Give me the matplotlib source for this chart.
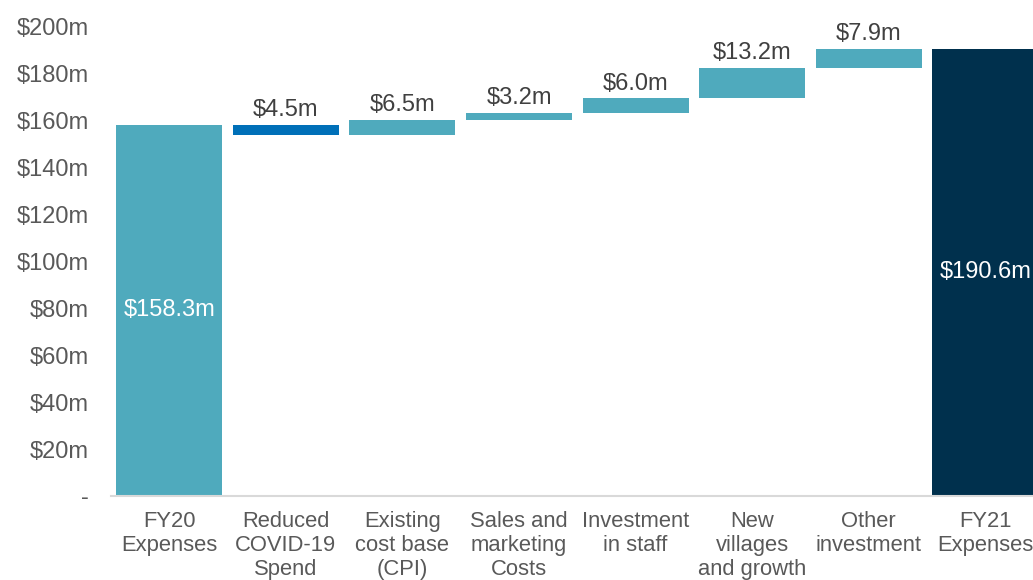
import matplotlib
matplotlib.use('Agg')
import numpy as np
from matplotlib import pyplot as plt

plt.rcParams['font.family'] = ['Liberation Sans', 'DejaVu Sans']

categories = ['FY20\nExpenses', 'Reduced\nCOVID-19\nSpend', 'Existing\ncost base\n(CPI)',
              'Sales and\nmarketing\nCosts', 'Investment\nin staff', 'New\nvillages\nand growth',
              'Other\ninvestment', 'FY21\nExpenses']
changes = [158.3, -4.5, 6.5, 3.2, 6.0, 13.2, 7.9, 190.6]
kinds = ['total', 'down', 'up', 'up', 'up', 'up', 'up', 'total']
labels = ['$158.3m', '$4.5m', '$6.5m', '$3.2m', '$6.0m', '$13.2m', '$7.9m', '$190.6m']
yticks = [0, 20, 40, 60, 80, 100, 120, 140, 160, 180, 200]
yticklabels = ['-', '$20m', '$40m', '$60m', '$80m', '$100m', '$120m', '$140m', '$160m', '$180m', '$200m']

colors = {'total': '#4FAABD', 'down': '#0070B8', 'up': '#4FAABD'}
grey = '#595959'

fig = plt.figure(figsize=(10.33, 5.8), dpi=100)
ax = fig.add_axes([0.1075, 0.145, 0.8925, 0.8085])

x = np.arange(len(categories))
running = 0
for i, (v, k) in enumerate(zip(changes, kinds)):
    if k == 'total':
        bottom, h = 0, v
        running = v
        c = '#00304D' if i == len(changes) - 1 else colors['total']
    elif k == 'down':
        bottom, h = running + v, -v
        running = running + v
        c = colors['down']
    else:
        bottom, h = running, v
        running = running + v
        c = colors['up']
    ax.bar(x[i], h, bottom=bottom, width=0.91, color=c)
    if k == 'total':
        ax.text(x[i], v / 2, labels[i], ha='center', va='center', color='white', fontsize=17)
    else:
        ax.text(x[i], bottom + h + 1.6, labels[i], ha='center', va='bottom', color='#404040', fontsize=17)

ax.set_xlim(-0.5, 7.41)
ax.set_ylim(0, 200)
ax.set_yticks(yticks)
ax.set_yticklabels(yticklabels)
ax.set_xticks(x)
ax.set_xticklabels(categories, linespacing=1.17)
ax.tick_params(axis='y', length=0, pad=16, labelsize=17, labelcolor=grey)
ax.tick_params(axis='x', length=0, pad=11, labelsize=15.8, labelcolor=grey)
for s in ['top', 'right', 'left']:
    ax.spines[s].set_visible(False)
ax.spines['bottom'].set_color('#D9D9D9')
ax.spines['bottom'].set_linewidth(1.5)

fig.savefig('out.png', dpi=100)
